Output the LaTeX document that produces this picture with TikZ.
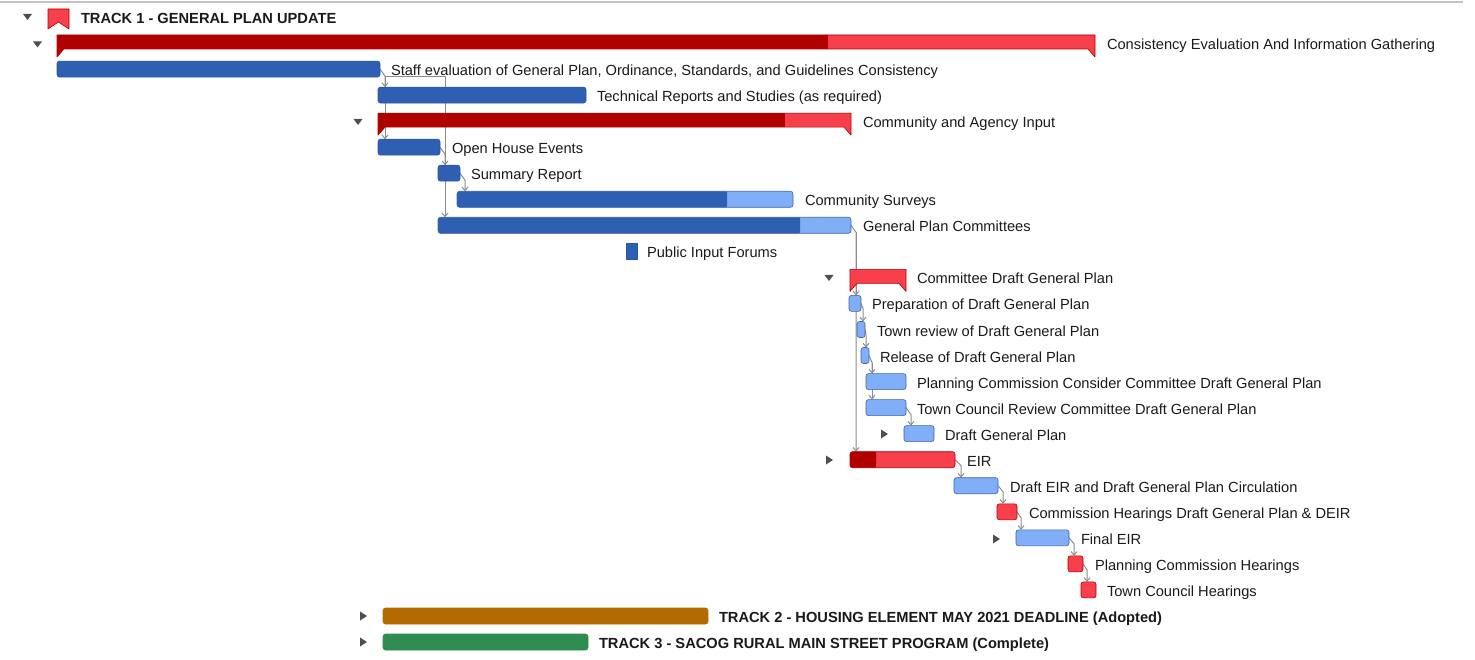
\documentclass[tikz,border=0pt]{standalone}
\usepackage{fontspec}
\setmainfont{Liberation Sans}
\usetikzlibrary{arrows.meta,calc}
\pgfdeclarelayer{bg}
\pgfsetlayers{bg,main}
\definecolor{dkblue}{HTML}{2F5FB3}
\definecolor{dkblueb}{HTML}{2A56A2}
\definecolor{ltblue}{HTML}{80AEF7}
\definecolor{ltblueb}{HTML}{3D64AA}
\definecolor{dkred}{HTML}{B00000}
\definecolor{ltred}{HTML}{F7404C}
\definecolor{redb}{HTML}{B30000}
\definecolor{trbrown}{HTML}{B36B00}
\definecolor{trgreen}{HTML}{2E8C50}
\definecolor{conncol}{HTML}{8C8C8C}
\definecolor{tricol}{HTML}{4F4F4F}
\definecolor{topline}{HTML}{C3C3C3}
\definecolor{txt}{HTML}{1A1A1A}

\tikzset{
  bar/.style={rounded corners=2.5pt, inner sep=0pt, outer sep=0pt, minimum height=16pt, line width=0.6pt},
  lbl/.style={anchor=base west, inner sep=0pt, outer sep=0pt, text=txt, yshift=-1pt, font=\fontsize{14.65pt}{17pt}\selectfont},
  blbl/.style={lbl, font=\fontsize{14.65pt}{17pt}\selectfont\bfseries},
  conn/.style={draw=conncol, line width=1pt, -{Straight Barb[length=3.5pt,width=6pt]}},
}
% name x1 x2 y fill draw
\newcommand\tbar[6]{\node[bar,fill=#5,draw=#6,minimum width={(#3-#2)*1pt}] (#1) at ({(#2+#3)/2},#4) {};}
% name x1 xs x2 y dark light border
\newcommand\tbarsplit[8]{\node[bar,fill=#7,draw=#8,minimum width={(#4-#2)*1pt},
  path picture={\fill[#6] ([yshift=-1pt]path picture bounding box.south west) rectangle ++({(#3-#2)*1pt},18pt);}]
  (#1) at ({(#2+#4)/2},#5) {};}
% name x1 xs x2 c
\newcommand\summ[5]{%
  \node[inner sep=0pt,outer sep=0pt,minimum width={(#4-#2)*1pt},minimum height=14pt] (#1) at ({(#2+#4)/2},{#5-1}) {};
  \begin{scope}
    \clip ({#2-1},{#5-10}) rectangle (#3,{#5+16});
    \fill[dkred] (#2,{#5-8}) -- (#4,{#5-8}) -- (#4,{#5+14}) -- ({#4-7},{#5+6}) -- ({#2+7},{#5+6}) -- (#2,{#5+14}) -- cycle;
  \end{scope}
  \begin{scope}
    \clip (#3,{#5-10}) rectangle ({#4+1},{#5+16});
    \fill[ltred] (#2,{#5-8}) -- (#4,{#5-8}) -- (#4,{#5+14}) -- ({#4-7},{#5+6}) -- ({#2+7},{#5+6}) -- (#2,{#5+14}) -- cycle;
  \end{scope}
  \draw[redb,line width=0.6pt,line join=round] (#2,{#5-8}) -- (#4,{#5-8}) -- (#4,{#5+14}) -- ({#4-7},{#5+6}) -- ({#2+7},{#5+6}) -- (#2,{#5+14}) -- cycle;
}
\newcommand\dtri[2]{\fill[tricol] ({#1-4.5},{#2-3}) -- ({#1+4.5},{#2-3}) -- (#1,{#2+3}) -- cycle;}
\newcommand\rtri[2]{\fill[tricol] ({#1-3},{#2-4.5}) -- ({#1-3},{#2+4.5}) -- ({#1+4},#2) -- cycle;}

\begin{document}
\begin{tikzpicture}[x=1pt,y=-1pt]
\useasboundingbox (0,0) rectangle (1475,660);
\draw[topline,line width=2pt] (0,2) -- (1463,2);

% expand/collapse markers
\dtri{27.5}{17}
\dtri{37.5}{44.5}
\dtri{358}{122}
\dtri{829}{278}
\rtri{884}{434}
\rtri{829}{460}
\rtri{996}{539}
\rtri{363}{616}
\rtri{363}{642}

% Track 1 flag
\fill[ltred] (48,9) -- (69,9) -- (69,29) -- (58.5,22) -- (48,29) -- cycle;
\draw[redb,line width=0.6pt,line join=round] (48,9) -- (69,9) -- (69,29) -- (58.5,22) -- (48,29) -- cycle;
\node[blbl] (lt1) at (81,22.5) {TRACK 1 - GENERAL PLAN UPDATE};

% bars
\summ{cons}{57}{828}{1095}{43}
\tbar{staff}{57}{380}{69.1}{dkblue}{dkblueb}
\tbar{tech}{378}{586}{95.1}{dkblue}{dkblueb}
\summ{comm}{378}{785}{851}{121.2}
\tbar{open}{378}{440}{147.2}{dkblue}{dkblueb}
\tbar{summ}{438}{460}{173.2}{dkblue}{dkblueb}
\tbarsplit{surv}{457}{727}{793}{199.3}{dkblue}{ltblue}{ltblueb}
\tbarsplit{gpc}{438}{800}{851}{225.3}{dkblue}{ltblue}{ltblueb}
\node[fill=dkblue,draw=dkblueb,line width=0.4pt,inner sep=0pt,outer sep=0pt,minimum width=11pt,minimum height=16pt] (pif) at (631.5,251.4) {};
\summ{cdgp}{850}{850}{906}{277.4}
\tbar{prep}{849}{861}{303.4}{ltblue}{ltblueb}
\tbar{trev}{857}{865}{329.5}{ltblue}{ltblueb}
\tbar{rel}{861}{869}{355.5}{ltblue}{ltblueb}
\tbar{pcc}{866}{906}{381.6}{ltblue}{ltblueb}
\tbar{tcr}{866}{906}{407.6}{ltblue}{ltblueb}
\tbar{dgp}{904}{934}{433.6}{ltblue}{ltblueb}
\tbarsplit{eir}{850}{876}{955}{459.7}{dkred}{ltred}{redb}
\tbar{deir}{954}{998}{485.7}{ltblue}{ltblueb}
\tbar{ch}{997}{1017}{511.8}{ltred}{redb}
\tbar{feir}{1016}{1069}{537.8}{ltblue}{ltblueb}
\tbar{pch}{1068}{1083}{563.8}{ltred}{redb}
\tbar{tch}{1081}{1096}{589.9}{ltred}{redb}
\tbar{t2}{383}{708}{616}{trbrown}{trbrown}
\tbar{t3}{383}{588}{642}{trgreen}{trgreen}

% labels
\node[lbl] (lcons) at (1107,48.5) {Consistency Evaluation And Information Gathering};
\node[lbl] (lstaff) at (391,74.6) {Staff evaluation of General Plan, Ordinance, Standards, and Guidelines Consistency};
\node[lbl] (ltech) at (597,100.6) {Technical Reports and Studies (as required)};
\node[lbl] (lcomm) at (863,126.7) {Community and Agency Input};
\node[lbl] (lopen) at (452,152.7) {Open House Events};
\node[lbl] (lsumm) at (471,178.7) {Summary Report};
\node[lbl] (lsurv) at (805,204.8) {Community Surveys};
\node[lbl] (lgpc) at (863,230.8) {General Plan Committees};
\node[lbl] (lpif) at (647,256.9) {Public Input Forums};
\node[lbl] (lcdgp) at (917,282.9) {Committee Draft General Plan};
\node[lbl] (lprep) at (872,308.9) {Preparation of Draft General Plan};
\node[lbl] (ltrev) at (877,335) {Town review of Draft General Plan};
\node[lbl] (lrel) at (880,361) {Release of Draft General Plan};
\node[lbl] (lpcc) at (917,387.1) {Planning Commission Consider Committee Draft General Plan};
\node[lbl] (ltcr) at (917,413.1) {Town Council Review Committee Draft General Plan};
\node[lbl] (ldgp) at (945,439.1) {Draft General Plan};
\node[lbl] (leir) at (967,465.2) {EIR};
\node[lbl] (ldeir) at (1010,491.2) {Draft EIR and Draft General Plan Circulation};
\node[lbl] (lch) at (1029,517.3) {Commission Hearings Draft General Plan \& DEIR};
\node[lbl] (lfeir) at (1081,543.3) {Final EIR};
\node[lbl] (lpch) at (1095,569.3) {Planning Commission Hearings};
\node[lbl] (ltch) at (1107,595.4) {Town Council Hearings};
\node[blbl] (lt2) at (719,621.5) {TRACK 2 - HOUSING ELEMENT MAY 2021 DEADLINE (Adopted)};
\node[blbl] (lt3) at (599,647.5) {TRACK 3 - SACOG RURAL MAIN STREET PROGRAM (Complete)};

% connectors
\begin{pgfonlayer}{bg}
\coordinate (a1) at ($(staff.east)+(5,7)$);
\coordinate (a2) at ($(open.east)+(5,7)$);
\draw[conn] (staff.east) -- (a1) -- (a1 |- tech.north);
\draw[conn] (a1) -- (a1 |- open.north);
\draw[conn] (a1) -- (a1 -| a2) -- (a2 |- gpc.north);
\draw[conn] (open.east) -- (a2) -- (a2 |- summ.north);
\draw[conn] (summ.east) -- ++(5,7) coordinate (a3) -- (a3 |- surv.north);
\draw[conn] (gpc.east) -- ++(5,7) coordinate (a4) -- (a4 |- eir.north);
\draw[conn] (a4) -- (a4 |- prep.north);
\draw[conn] (prep.east) -- ++(2,5) coordinate (a5) -- (a5 |- trev.north);
\draw[conn] (trev.east) -- ++(1,6) coordinate (a6) -- (a6 |- rel.north);
\draw[conn] (rel.east) -- ++(3,7) coordinate (a7) -- (a7 |- pcc.north);
\draw[conn] (a7) -- (a7 |- tcr.north);
\draw[conn] (tcr.east) -- ++(5,7) coordinate (a8) -- (a8 |- dgp.north);
\draw[conn] (eir.east) -- ++(6,6) coordinate (a9) -- (a9 |- deir.north);
\draw[conn] (deir.east) -- ++(5,6) coordinate (a10) -- (a10 |- ch.north);
\draw[conn] (ch.east) -- ++(4,6) coordinate (a11) -- (a11 |- feir.north);
\draw[conn] (feir.east) -- ++(5,6) coordinate (a12) -- (a12 |- pch.north);
\draw[conn] (pch.east) -- ++(4,6) coordinate (a13) -- (a13 |- tch.north);
\end{pgfonlayer}
\end{tikzpicture}
\end{document}
